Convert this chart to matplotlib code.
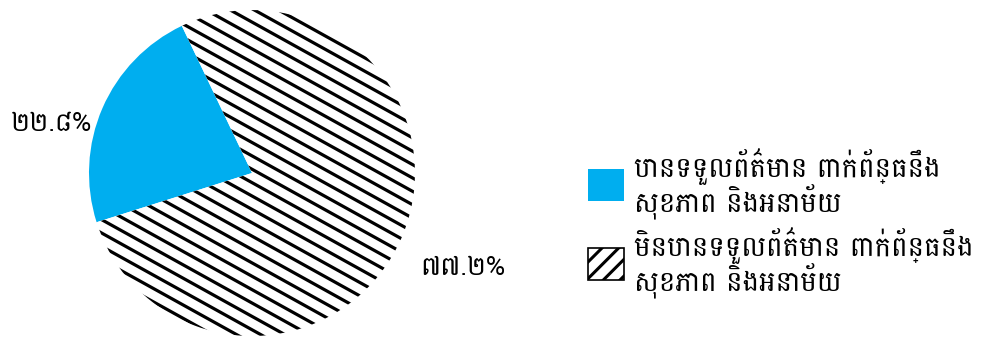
import os
import matplotlib
matplotlib.use("Agg")
import numpy as np
import matplotlib.pyplot as plt
from matplotlib import font_manager
from matplotlib.patches import Patch

# pick a real Khmer font if one is installed
prefer = ["Battambang-Regular", "NotoSansKhmer-Regular", "Kantumruy", "Hanuman", "Khmer.ttf", "Siemreap"]
fonts = font_manager.findSystemFonts()
khmer_font = None
for key in prefer:
    hits = [p for p in fonts if key.lower() in os.path.basename(p).lower()]
    if hits:
        khmer_font = font_manager.FontProperties(fname=hits[0]).get_name()
        font_manager.fontManager.addfont(hits[0])
        break
families = ([khmer_font] if khmer_font else []) + ["DejaVu Sans"]
plt.rcParams['font.family'] = families

shares = [22.8, 77.2]
pct_labels = ["២២.៨%", "៧៧.២%"]
legend_labels = ["បានទទួលព័ត៌មាន ពាក់ព័ន្ធនឹង\nសុខភាព និងអនាម័យ",
                 "មិនបានទទួលព័ត៌មាន ពាក់ព័ន្ធនឹង\nសុខភាព និងអនាម័យ"]
blue = "#00aeef"

plt.rcParams['hatch.linewidth'] = 2.2

fig = plt.figure(figsize=(9.85, 3.38), dpi=100)
# pie centre at (252, 173) px, radius 163 px
ax = fig.add_axes([(252 - 163) / 985, (338 - 173 - 163) / 338, 326 / 985, 326 / 338])
wedges, _ = ax.pie(shares, startangle=115.5, counterclock=True,
                   colors=[blue, "white"], radius=1.0,
                   wedgeprops=dict(linewidth=0))
ax.set_xlim(-1, 1)
ax.set_ylim(-1, 1)

# diagonal hatch lines (about 29 deg, ~11.7 px apart) clipped to the big wedge
ang = np.deg2rad(-29)
d = np.array([np.cos(ang), np.sin(ang)])
n = np.array([-d[1], d[0]])
step = 11.7 / 163
for k in np.arange(-1.2, 1.2, step):
    p = k * n
    seg = np.array([p - 1.5 * d, p + 1.5 * d])
    ln, = ax.plot(seg[:, 0], seg[:, 1], color="black", lw=2.3, solid_capstyle="butt")
    ln.set_clip_path(wedges[1])

fig.text(0.052, 0.636, pct_labels[0], fontsize=19, ha="center", va="center")
fig.text(0.470, 0.21, pct_labels[1], fontsize=19, ha="center", va="center")

handles = [Patch(facecolor=blue, edgecolor="none"),
           Patch(facecolor="white", edgecolor="black", hatch="//", linewidth=1.2)]
leg = fig.legend(handles, legend_labels, loc="center left", bbox_to_anchor=(0.583, 0.34),
                 frameon=False, fontsize=20, handlelength=1.3, handleheight=1.4,
                 handletextpad=0.35, labelspacing=0.3, borderpad=0)
for t in leg.get_texts():
    t.set_linespacing(0.95)

fig.savefig("out.png", dpi=100)
